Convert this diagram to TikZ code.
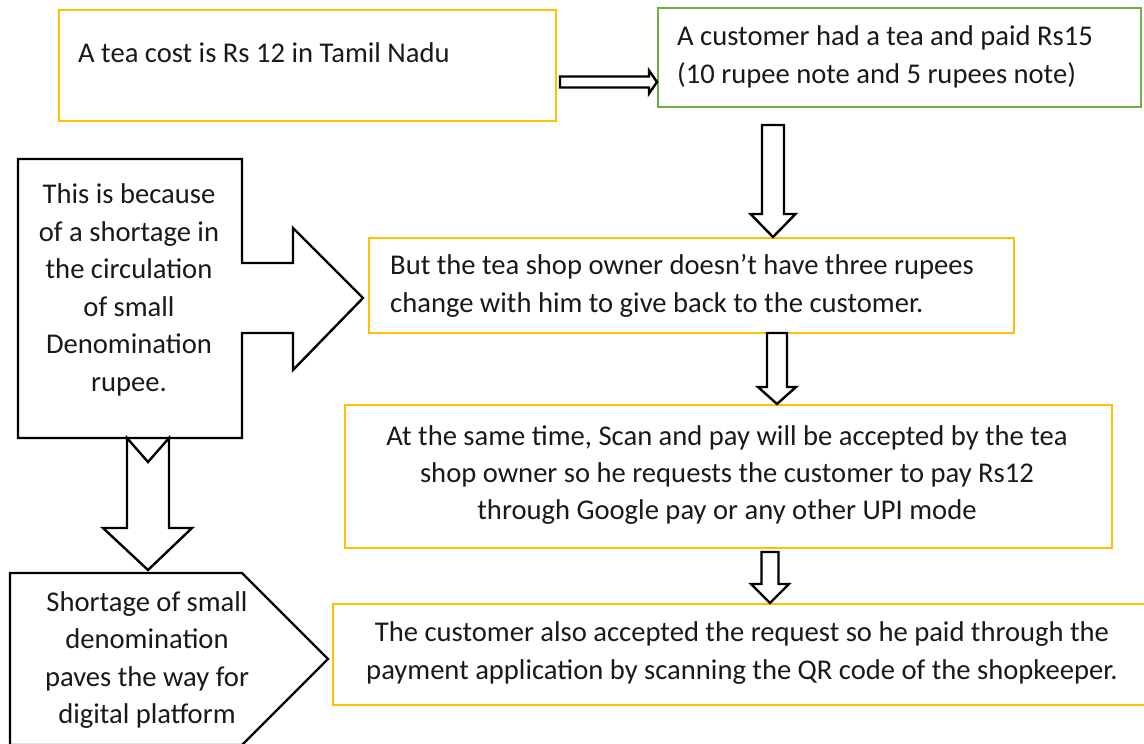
\documentclass[tikz,border=0pt]{standalone}
\usepackage{fontspec}
\setmainfont{Carlito}
\usetikzlibrary{calc}
\definecolor{gold}{HTML}{FFC000}
\definecolor{leaf}{HTML}{70AD47}

% hollow block arrow pointing down: tail point, tip point, shaft half width, head half width, head length
\newcommand\blockdown[5]{%
  \draw[blk] let \p1=#1, \p2=#2 in
    (\x2-#3,\y1) -- (\x2-#3,\y2+#5) -- (\x2-#4,\y2+#5) -- (\x2,\y2)
    -- (\x2+#4,\y2+#5) -- (\x2+#3,\y2+#5) -- (\x2+#3,\y1) -- cycle;}
% hollow block arrow pointing right
\newcommand\blockright[5]{%
  \draw[blk] let \p1=#1, \p2=#2 in
    (\x1,\y2+#3) -- (\x2-#5,\y2+#3) -- (\x2-#5,\y2+#4) -- (\x2,\y2)
    -- (\x2-#5,\y2-#4) -- (\x2-#5,\y2-#3) -- (\x1,\y2-#3) -- cycle;}

\begin{document}
\begin{tikzpicture}[x=1pt,y=-1pt,
  every node/.style={font=\fontsize{28.6}{37.5}\selectfont, inner sep=0pt, text=black!90},
  ybox/.style={draw=gold, line width=2pt, anchor=north west},
  gbox/.style={draw=leaf, line width=2.4pt, anchor=north west},
  blk/.style={draw=black, line width=2.4pt, fill=white, line join=miter},
]
\useasboundingbox (0,0) rectangle (1144,744);

% process boxes
\node[ybox, minimum width=497pt, minimum height=111pt] (cost) at (58,9) {};
\node[gbox, minimum width=483pt, minimum height=99pt] (paid) at (657,7) {};
\node[ybox, minimum width=645pt, minimum height=95pt] (change) at (368,237) {};
\node[ybox, minimum width=767pt, minimum height=143pt] (upi) at (344,404) {};
\node[ybox, minimum width=830pt, minimum height=101pt] (scan) at (332,603) {};

% box texts
\node[anchor=base west] (costtxt) at (78,62) {A tea cost is Rs 12 in Tamil Nadu};
\node[anchor=west, align=left, font=\fontsize{28.6}{38}\selectfont] (paidtxt) at (677,57)
  {A customer had a tea and paid Rs15\\(10 rupee note and 5 rupees note)};
\node[anchor=west, align=left] (changetxt) at (390,286)
  {But the tea shop owner doesn’t have three rupees\\change with him to give back to the customer.};
\node[align=center, font=\fontsize{28.6}{36.8}\selectfont] (upitxt) at (727,475)
  {At the same time, Scan and pay will be accepted by the tea\\shop owner so he requests the customer to pay Rs12\\through Google pay or any other UPI mode};
\node[align=center] (scantxt) at (742,653)
  {The customer also accepted the request so he paid through the\\payment application by scanning the QR code of the shopkeeper.};

% flow arrows
\coordinate (r0) at (560,82);
\coordinate (d1) at (773,125);
\coordinate (d2) at (777,333);
\coordinate (d3) at (770,552);
\blockright{(r0)}{(r0 -| paid.west)}{5.5pt}{11.5pt}{8pt}
\blockdown{(d1)}{(d1 |- change.north)}{11pt}{22.5pt}{23pt}
\blockdown{(d2)}{(d2 |- upi.north)}{10pt}{19pt}{17pt}
\blockdown{(d3)}{(d3 |- scan.north)}{8.5pt}{19pt}{19pt}

% right arrow callout with the reason
\draw[blk] (18,159) -- (242,159) -- (242,263) -- (293,263) -- (293,228) -- (363,298)
  -- (293,370) -- (293,333) -- (242,333) -- (242,438) -- (18,438) -- cycle;
\node[align=center] (reason) at (129,290)
  {This is because\\of a shortage in\\the circulation\\of small\\Denomination\\rupee.};

% notched down arrow
\draw[blk] (127,438) -- (127,528) -- (103,528) -- (148,570) -- (192,528) -- (169,528)
  -- (169,438) -- (148,462) -- cycle;

% pentagon with the conclusion
\draw[blk] (10,573) -- (242,573) -- (328,659) -- (242,745) -- (10,745) -- cycle;
\node[align=center] (result) at (147,660)
  {Shortage of small\\denomination\\paves the way for\\digital platform};
\end{tikzpicture}
\end{document}
